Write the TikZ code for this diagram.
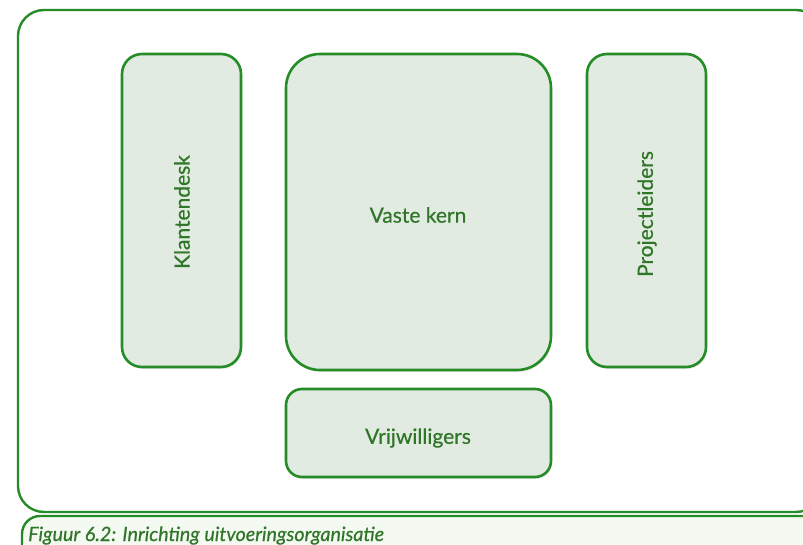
\documentclass[tikz,border=0pt]{standalone}
\usepackage{fontspec}
\setmainfont{Lato}
\newfontfamily\labelfont{Lato}[FakeBold=0.6]
\usetikzlibrary{shadows}
\definecolor{frameGreen}{RGB}{38,140,40}
\definecolor{textGreen}{RGB}{48,118,40}
\definecolor{boxFill}{RGB}{226,235,226}
\definecolor{captionFill}{RGB}{244,249,242}
\tikzset{
  unit/.style={draw=frameGreen, line width=2.6pt, fill=boxFill,
    drop shadow={shadow xshift=1pt, shadow yshift=-2pt, opacity=0.18}},
  label/.style={text=textGreen, font=\labelfont\fontsize{21}{24}\selectfont},
}
\begin{document}
\begin{tikzpicture}[x=1pt,y=-1pt]
  \useasboundingbox (0,0) rectangle (803,545);
  \clip (0,0) rectangle (803,545);
  \fill[white] (0,0) rectangle (803,545);
  % caption band
  \draw[draw=frameGreen, line width=2.4pt, fill=captionFill, rounded corners=18pt]
    (22,560) -- (22,516) -- (830,516) -- (830,560);
  \node[anchor=base west, text=textGreen, inner sep=0pt,
        font=\labelfont\fontsize{19.7}{23}\selectfont\itshape] (caption) at (28,541)
    {Figuur 6.2: Inrichting uitvoeringsorganisatie};
  % outer frame
  \draw[draw=frameGreen, line width=2.4pt, rounded corners=26pt]
    (18,10) rectangle (822,512);
  % organisation units
  \draw[unit, rounded corners=20pt] (122,54) rectangle (241,367);
  \draw[unit, rounded corners=34pt] (286,54) rectangle (551,370);
  \draw[unit, rounded corners=20pt] (587,54) rectangle (706,367);
  \draw[unit, rounded corners=16pt] (286,389) rectangle (551,477);
  \node[label, rotate=90] (klantendesk) at (182,212) {Klantendesk};
  \node[label] (kern) at (418,215) {Vaste kern};
  \node[label, rotate=90] (projectleiders) at (647,214) {Projectleiders};
  \node[label] (vrijwilligers) at (418,438) {Vrijwilligers};
\end{tikzpicture}
\end{document}
